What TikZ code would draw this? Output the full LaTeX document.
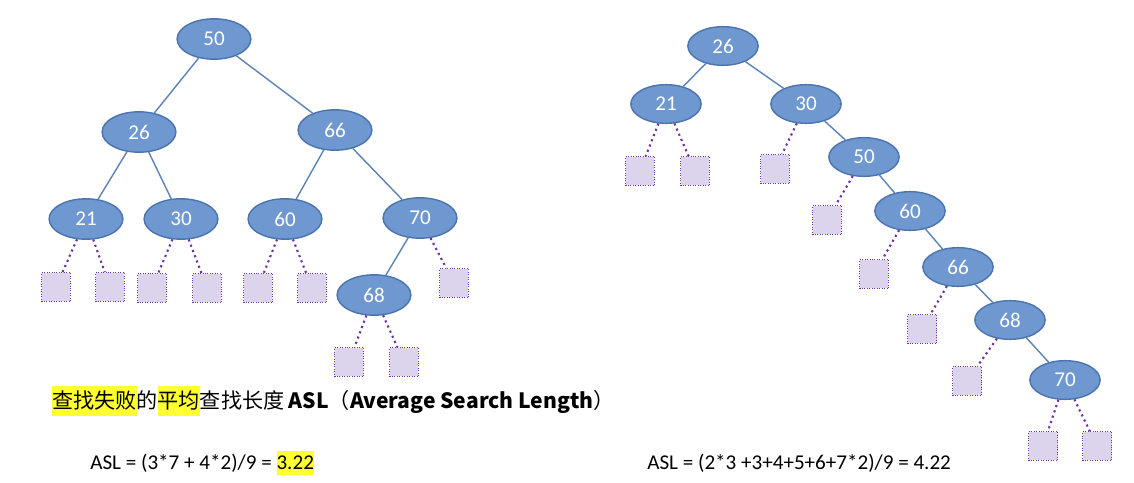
\documentclass[tikz,border=0pt]{standalone}
\usepackage{fontspec}
\setmainfont{Carlito}
\newfontfamily\cjk{Noto Sans CJK SC}
\usetikzlibrary{shapes.geometric}
\definecolor{nodefill}{HTML}{6F98D0}
\definecolor{nodeline}{HTML}{4A74AE}
\definecolor{leaffill}{HTML}{DCD3EC}
\definecolor{leafline}{HTML}{7030A0}
\definecolor{mark}{HTML}{FFFF33}
\tikzset{
  keynode/.style={ellipse,fill=nodefill,draw=nodeline,thick,text=white,
    minimum width=42pt,minimum height=23pt,inner sep=0pt,font=\fontsize{12}{14}\selectfont},
  smallkey/.style={keynode,minimum width=40pt,minimum height=22pt},
  leafbox/.style={rectangle,fill=leaffill,draw=leafline,densely dotted,
    minimum size=16.5pt,inner sep=0pt},
  treeedge/.style={draw=nodeline!90,thick},
  leafedge/.style={draw=leafline,very thick,dotted}
}
\begin{document}
\begin{tikzpicture}[x=0.02cm,y=-0.02cm]
\useasboundingbox (0,0) rectangle (1134,483);
% left tree
\node[keynode] (l50) at (214,39) {50};
\node[keynode] (l26) at (139,132) {26};
\node[keynode] (l66) at (335,130) {66};
\node[keynode] (l21) at (86,219) {21};
\node[keynode] (l30) at (181,219) {30};
\node[keynode] (l60) at (285,219) {60};
\node[keynode] (l70) at (420,218) {70};
\node[keynode] (l68) at (374,295) {68};
\draw[treeedge] (l50) -- (l26);
\draw[treeedge] (l50) -- (l66);
\draw[treeedge] (l26) -- (l21);
\draw[treeedge] (l26) -- (l30);
\draw[treeedge] (l66) -- (l60);
\draw[treeedge] (l66) -- (l70);
\draw[treeedge] (l70) -- (l68);
\node[leafbox] (la) at (56,287) {};
\node[leafbox] (lb) at (110,287) {};
\node[leafbox] (lc) at (152,288) {};
\node[leafbox] (ld) at (207,288) {};
\node[leafbox] (le) at (258,288) {};
\node[leafbox] (lf) at (312,288) {};
\node[leafbox] (lg) at (454,283) {};
\node[leafbox] (lh) at (349,362) {};
\node[leafbox] (li) at (404,362) {};
\draw[leafedge] (l21) -- (la);
\draw[leafedge] (l21) -- (lb);
\draw[leafedge] (l30) -- (lc);
\draw[leafedge] (l30) -- (ld);
\draw[leafedge] (l60) -- (le);
\draw[leafedge] (l60) -- (lf);
\draw[leafedge] (l70) -- (lg);
\draw[leafedge] (l68) -- (lh);
\draw[leafedge] (l68) -- (li);
% right tree
\node[smallkey] (r26) at (723,46) {26};
\node[smallkey] (r21) at (666,104) {21};
\node[smallkey] (r30) at (806,104) {30};
\node[smallkey] (r50) at (864,157) {50};
\node[smallkey] (r60) at (910,211) {60};
\node[smallkey] (r66) at (958,267) {66};
\node[smallkey] (r68) at (1010,320) {68};
\node[smallkey] (r70) at (1065,380) {70};
\draw[treeedge] (r26) -- (r21);
\draw[treeedge] (r26) -- (r30);
\draw[treeedge] (r30) -- (r50);
\draw[treeedge] (r50) -- (r60);
\draw[treeedge] (r60) -- (r66);
\draw[treeedge] (r66) -- (r68);
\draw[treeedge] (r68) -- (r70);
\node[leafbox] (ra) at (640,171) {};
\node[leafbox] (rb) at (695,171) {};
\node[leafbox] (rc) at (775,169) {};
\node[leafbox] (rd) at (827,220) {};
\node[leafbox] (re) at (874,274) {};
\node[leafbox] (rf) at (922,329) {};
\node[leafbox] (rg) at (967,381) {};
\node[leafbox] (rh) at (1043,446) {};
\node[leafbox] (ri) at (1097,446) {};
\draw[leafedge] (r21) -- (ra);
\draw[leafedge] (r21) -- (rb);
\draw[leafedge] (r30) -- (rc);
\draw[leafedge] (r50) -- (rd);
\draw[leafedge] (r60) -- (re);
\draw[leafedge] (r66) -- (rf);
\draw[leafedge] (r68) -- (rg);
\draw[leafedge] (r70) -- (rh);
\draw[leafedge] (r70) -- (ri);
% texts
\node[anchor=west,inner sep=0pt,font=\fontsize{12}{14}\selectfont] (title) at (52,401)
  {\cjk\colorbox{mark}{\hspace*{-3pt}查找失败\hspace*{-3pt}}的\colorbox{mark}{\hspace*{-3pt}平均\hspace*{-3pt}}查找长度 \textbf{ASL}（\textbf{Average Search Length}）};
\node[anchor=west,inner sep=0pt,font=\fontsize{12}{14}\selectfont] (asl1) at (90,463)
  {ASL = (3*7 + 4*2)/9 = \colorbox{mark}{\hspace*{-3pt}3.22\hspace*{-3pt}}};
\node[anchor=west,inner sep=0pt,font=\fontsize{12}{14}\selectfont] (asl2) at (647,463)
  {ASL = (2*3 +3+4+5+6+7*2)/9 = 4.22};
\end{tikzpicture}
\end{document}
